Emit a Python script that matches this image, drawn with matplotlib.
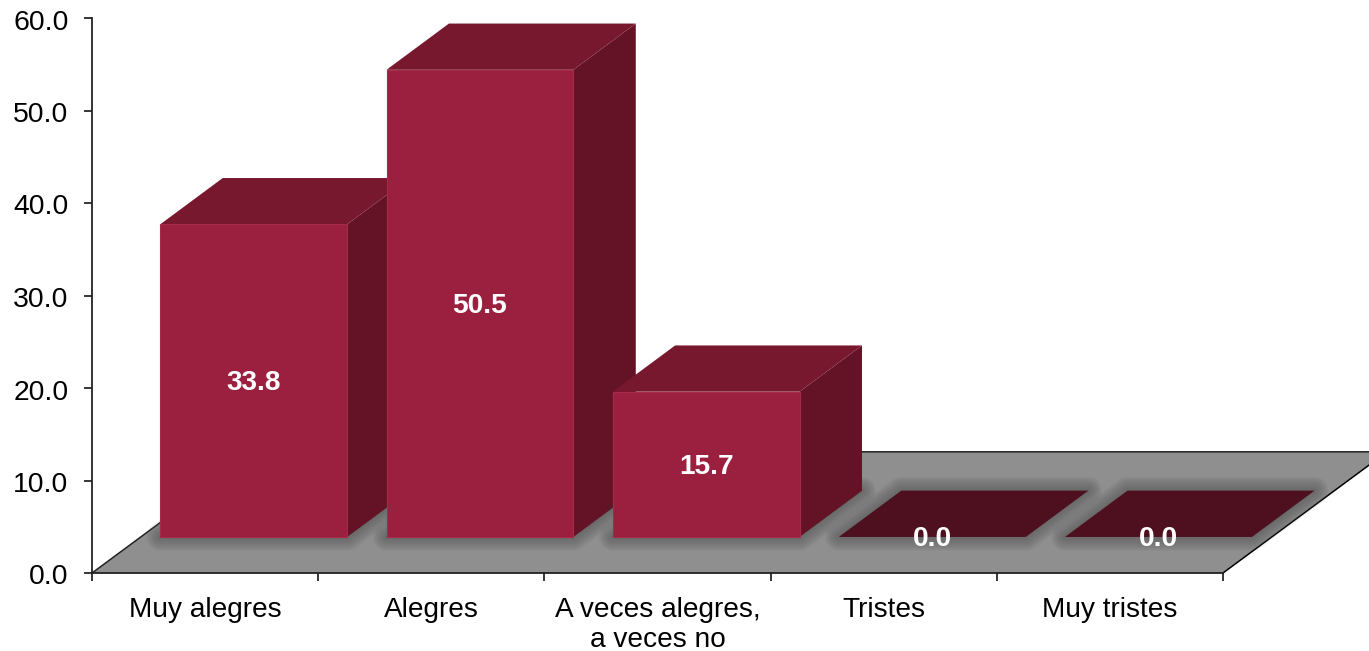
"""3D-look bar chart, faked with polygons on a flat axes."""

import matplotlib
matplotlib.use('Agg')
import matplotlib.pyplot as plt
from matplotlib.patches import Polygon
from matplotlib.transforms import ScaledTranslation

categories = ['Muy alegres', 'Alegres', 'A veces alegres,\na veces no', 'Tristes', 'Muy tristes']
values = [33.8, 50.5, 15.7, 0.0, 0.0]
y_ticks = [0, 10, 20, 30, 40, 50, 60]

# depth of the fake perspective, in data units
FLOOR_DX, FLOOR_DY = 0.725, 13.1
BASE_DX, BASE_DY = 0.215, 3.9
BAR_DX, BAR_DY = 0.276, 5.0
BAR_WIDTH = 0.826

FRONT = '#9B2040'
TOP = '#78182E'
SIDE = '#641326'
FLAT = '#4E0F1E'
FLOOR = '#8F8F8F'

plt.rcParams['font.family'] = ['Liberation Sans', 'DejaVu Sans']

W, H = 1369, 651
fig = plt.figure(figsize=(W / 100, H / 100), dpi=100)
ax = fig.add_axes([92 / W, 1 - 573 / H, 1131 / W, 555 / H])
ax.set_xlim(0, 5)
ax.set_ylim(0, 60)
ax.patch.set_visible(False)
for side in ('top', 'right'):
    ax.spines[side].set_visible(False)
for side in ('left', 'bottom'):
    ax.spines[side].set_linewidth(1.3)
    ax.spines[side].set_color('#222222')
    ax.spines[side].set_zorder(20)

ax.set_yticks(y_ticks)
ax.set_yticklabels([f'{v:.1f}' for v in y_ticks], fontsize=20.4)
ax.set_xticks(range(len(categories) + 1))
ax.set_xticklabels([])
ax.set_xticks([i + 0.5 for i in range(len(categories))], minor=True)
ax.set_xticklabels(categories, minor=True, fontsize=20.2, linespacing=1.22)
ax.tick_params(axis='y', length=6, width=1.1, pad=11)
ax.tick_params(axis='x', which='major', length=6, width=1.1)
ax.tick_params(axis='x', which='minor', length=0, pad=17)

for lab in ax.get_yticklabels():
    lab.set_transform(lab.get_transform() + ScaledTranslation(0, -1.5 / 100, fig.dpi_scale_trans))


def poly(points, color, z, **kw):
    ax.add_patch(Polygon(points, closed=True, facecolor=color, edgecolor=kw.pop('edge', 'none'),
                         clip_on=False, zorder=z, **kw))


# floor
n = len(categories)
poly([(0, 0), (n, 0), (n + FLOOR_DX, FLOOR_DY), (FLOOR_DX, FLOOR_DY)], FLOOR, 1)
ax.plot([0, FLOOR_DX, n + FLOOR_DX], [0, FLOOR_DY, FLOOR_DY], color='#222222', lw=1.1,
        clip_on=False, zorder=2)
ax.plot([n, n + FLOOR_DX], [0, FLOOR_DY], color='black', lw=1.1, clip_on=False, zorder=2)

for i, val in enumerate(values):
    x0 = i + BASE_DX + (1 - BAR_WIDTH) / 2
    x1 = x0 + BAR_WIDTH
    y0 = BASE_DY
    y1 = BASE_DY + val
    footprint = [(x0, y0), (x1, y0), (x1 + BAR_DX, y0 + BAR_DY), (x0 + BAR_DX, y0 + BAR_DY)]

    # soft shadow on the floor
    for lw in range(20, 0, -2):
        ax.add_patch(Polygon(footprint, closed=True, facecolor='#585858', edgecolor='#585858',
                             lw=lw, alpha=0.085, joinstyle='round', clip_on=False, zorder=3))

    z = 4 + i
    if val == 0:
        poly(footprint, FLAT, z)
    else:
        poly([(x1, y0), (x1 + BAR_DX, y0 + BAR_DY), (x1 + BAR_DX, y1 + BAR_DY), (x1, y1)], SIDE, z)
        poly([(x0, y1), (x1, y1), (x1 + BAR_DX, y1 + BAR_DY), (x0 + BAR_DX, y1 + BAR_DY)], TOP, z)
        poly([(x0, y0), (x1, y0), (x1, y1), (x0, y1)], FRONT, z, edge='#A62A4A', lw=0.8)
    txt = ax.text((x0 + x1) / 2, y0 + val / 2, f'{val:.1f}', color='white', fontsize=20.2,
                  fontweight='bold', ha='center', va='center', zorder=15, clip_on=False)
    txt.set_transform(txt.get_transform() + ScaledTranslation(0, -2.5 / 100, fig.dpi_scale_trans))

fig.savefig('out.png', dpi=100, facecolor='white')
